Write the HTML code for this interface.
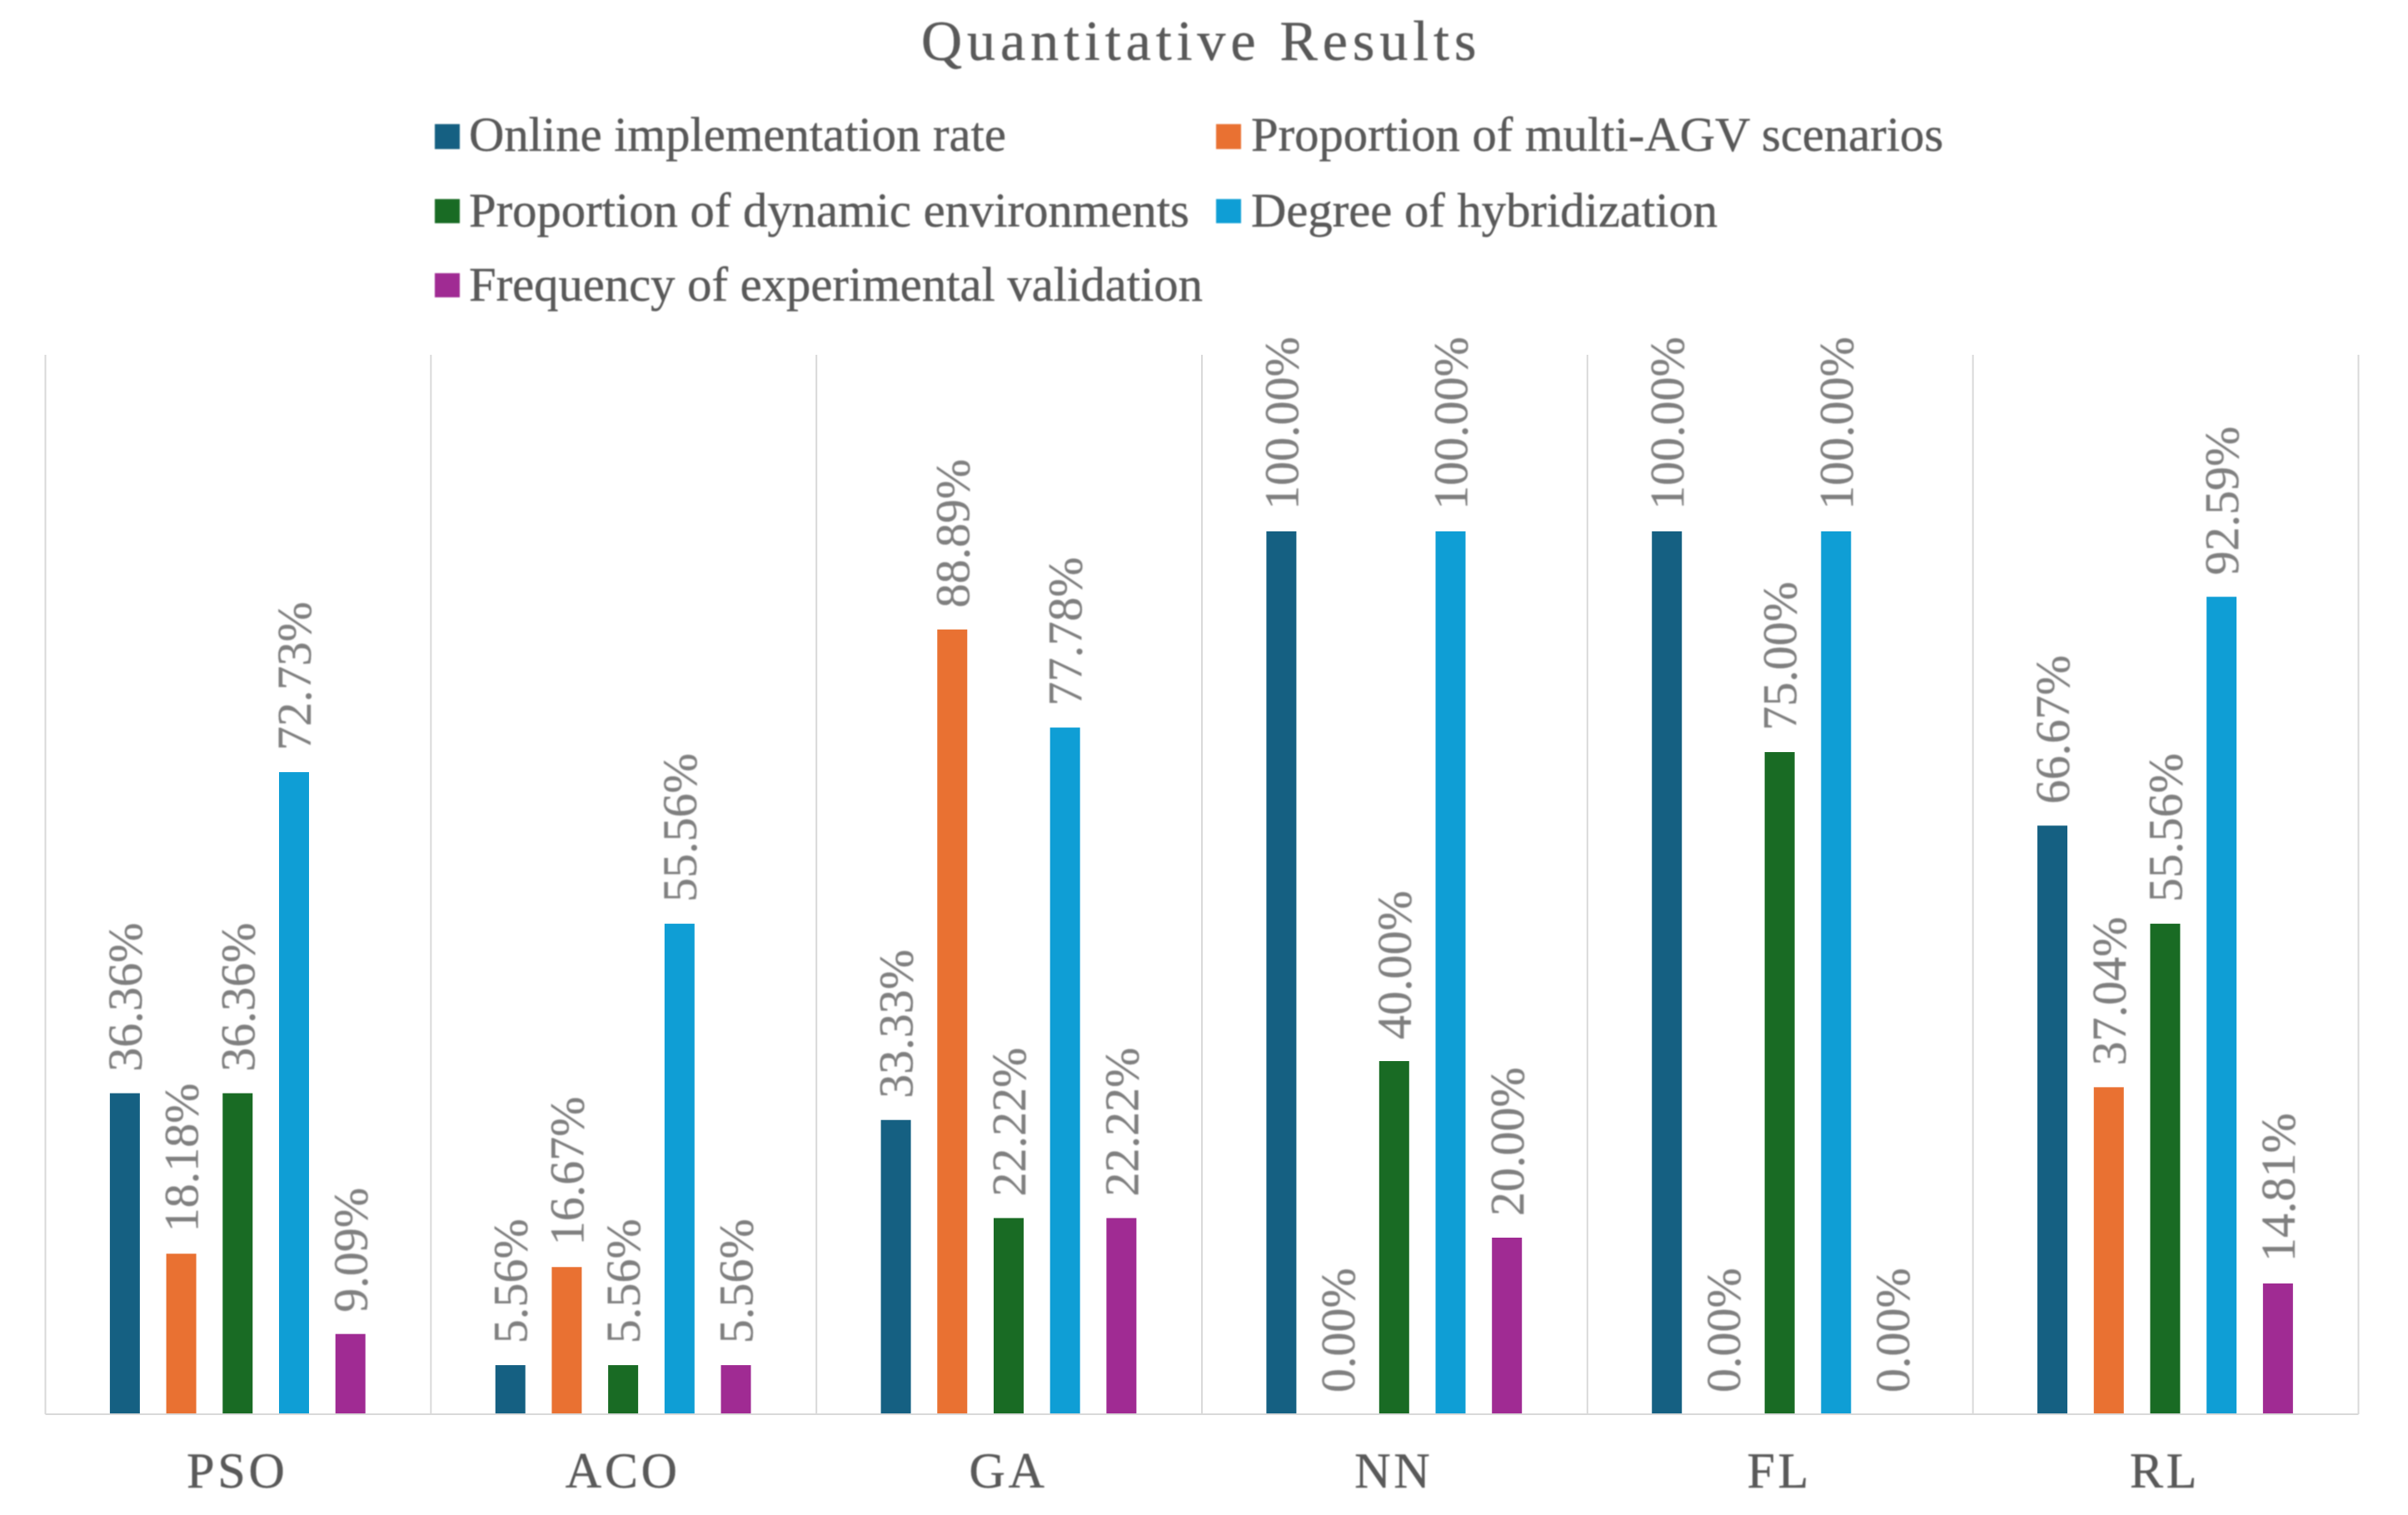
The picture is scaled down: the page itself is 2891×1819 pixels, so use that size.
<!DOCTYPE html>
<html lang="en">
<head>
<meta charset="utf-8">
<title>Quantitative Results</title>
<style>
  html, body { margin: 0; padding: 0; background: #ffffff; }
  svg { display: block; }
  text { font-family: "Liberation Serif", serif; }
  .soft { filter: blur(0.7px); }
</style>
</head>
<body>
<svg id="chart" xmlns="http://www.w3.org/2000/svg" width="2891" height="1819" viewBox="0 0 2891 1819">
  <rect x="0" y="0" width="2891" height="1819" fill="#ffffff"/>
  <g class="soft">
    <text x="1106" y="72" font-size="68" letter-spacing="5.95" fill="#595959" stroke="#595959" stroke-width="0.4">Quantitative Results</text>
    <g>
      <g>
        <rect x="522" y="149" width="30" height="30" fill="#156082"/>
        <text x="563" y="181" font-size="58.65" fill="#595959" stroke="#595959" stroke-width="0.4">Online implementation rate</text>
      </g>
      <g>
        <rect x="1460" y="149" width="30" height="30" fill="#E97132"/>
        <text x="1502" y="181" font-size="58.65" fill="#595959" stroke="#595959" stroke-width="0.4">Proportion of multi-AGV scenarios</text>
      </g>
      <g>
        <rect x="522" y="239" width="30" height="29" fill="#196B24"/>
        <text x="563" y="272" font-size="58.65" fill="#595959" stroke="#595959" stroke-width="0.4">Proportion of dynamic environments</text>
      </g>
      <g>
        <rect x="1460" y="239" width="30" height="29" fill="#0F9ED5"/>
        <text x="1502" y="272" font-size="58.65" fill="#595959" stroke="#595959" stroke-width="0.4">Degree of hybridization</text>
      </g>
      <g>
        <rect x="522" y="328" width="30" height="29" fill="#A02B93"/>
        <text x="563" y="361" font-size="58.65" fill="#595959" stroke="#595959" stroke-width="0.4">Frequency of experimental validation</text>
      </g>
    </g>
  </g>
  <g id="grid"></g>
  <g id="bars"></g>
  <g id="labels" class="soft"></g>
  <g id="axis"></g>
</svg>
<script>
const categories = ["PSO", "ACO", "GA", "NN", "FL", "RL"];
const onlineImplementation = [36.36, 5.56, 33.33, 100, 100, 66.67];
const multiAgv = [18.18, 16.67, 88.89, 0, 0, 37.04];
const dynamicEnvironments = [36.36, 5.56, 22.22, 40, 75, 55.56];
const hybridization = [72.73, 55.56, 77.78, 100, 100, 92.59];
const experimentalValidation = [9.09, 5.56, 22.22, 20, 0, 14.81];
const seriesNames = ["online-implementation", "multi-agv", "dynamic-environments", "hybridization", "experimental-validation"];
const seriesColors = ["#156082", "#E97132", "#196B24", "#0F9ED5", "#A02B93"];
const axisMax = 120;

const allSeries = [onlineImplementation, multiAgv, dynamicEnvironments, hybridization, experimentalValidation];
const NS = "http://www.w3.org/2000/svg";
const plot = { left: 54.5, right: 2831.5, top: 426, bottom: 1698 };
const catWidth = (plot.right - plot.left) / categories.length;
const barStep = 67.7;
const barWidth = 36;
const barInset = 77.4;

function xCat(i) { return plot.left + i * catWidth; }
function xBar(i, s) { return xCat(i) + barInset + s * barStep; }
function yVal(v) { return plot.bottom - (v / axisMax) * (plot.bottom - plot.top); }

const grid = document.getElementById("grid");
const bars = document.getElementById("bars");
const labels = document.getElementById("labels");
const axis = document.getElementById("axis");

for (let i = 0; i <= categories.length; i++) {
  const g = document.createElementNS(NS, "line");
  
  
  g.setAttribute("x1", xCat(i));
  g.setAttribute("x2", xCat(i));
  g.setAttribute("y1", plot.top);
  g.setAttribute("y2", plot.bottom);
  g.setAttribute("stroke", "#d9d9d9");
  g.setAttribute("stroke-width", "2");
  grid.appendChild(g);
}

allSeries.forEach(function (values, s) {
  values.forEach(function (v, i) {
    const r = document.createElementNS(NS, "rect");
    
    
    r.setAttribute("x", xBar(i, s));
    r.setAttribute("y", yVal(v));
    r.setAttribute("width", barWidth);
    r.setAttribute("height", plot.bottom - yVal(v));
    r.setAttribute("fill", seriesColors[s]);
    bars.appendChild(r);

    const t = document.createElementNS(NS, "text");
    const tx = xBar(i, s) + barWidth + 2;
    const ty = yVal(v) - 26;
    
    
    t.setAttribute("transform", "translate(" + tx + "," + ty + ") rotate(-90)");
    t.setAttribute("font-size", "57.8");
    t.setAttribute("letter-spacing", "0.1");
    t.setAttribute("fill", "#7f7f7f");
    t.setAttribute("stroke", "#7f7f7f");
    t.setAttribute("stroke-width", "0.3");
    t.textContent = v.toFixed(2) + "%";
    labels.appendChild(t);
  });
});

const baseline = document.createElementNS(NS, "line");


baseline.setAttribute("x1", plot.left);
baseline.setAttribute("x2", plot.right);
baseline.setAttribute("y1", plot.bottom);
baseline.setAttribute("y2", plot.bottom);
baseline.setAttribute("stroke", "#d9d9d9");
baseline.setAttribute("stroke-width", "2");
axis.appendChild(baseline);

categories.forEach(function (c, i) {
  const t = document.createElementNS(NS, "text");
  
  
  t.setAttribute("x", xCat(i) + catWidth / 2 - 1);
  t.setAttribute("y", 1786);
  t.setAttribute("font-size", "60");
  t.setAttribute("letter-spacing", "3.8");
  t.setAttribute("text-anchor", "middle");
  t.setAttribute("fill", "#595959");
  t.setAttribute("stroke", "#595959");
  t.setAttribute("stroke-width", "0.4");
  t.setAttribute("class", "soft");
  t.textContent = c;
  axis.appendChild(t);
});
</script>
</body>
</html>
